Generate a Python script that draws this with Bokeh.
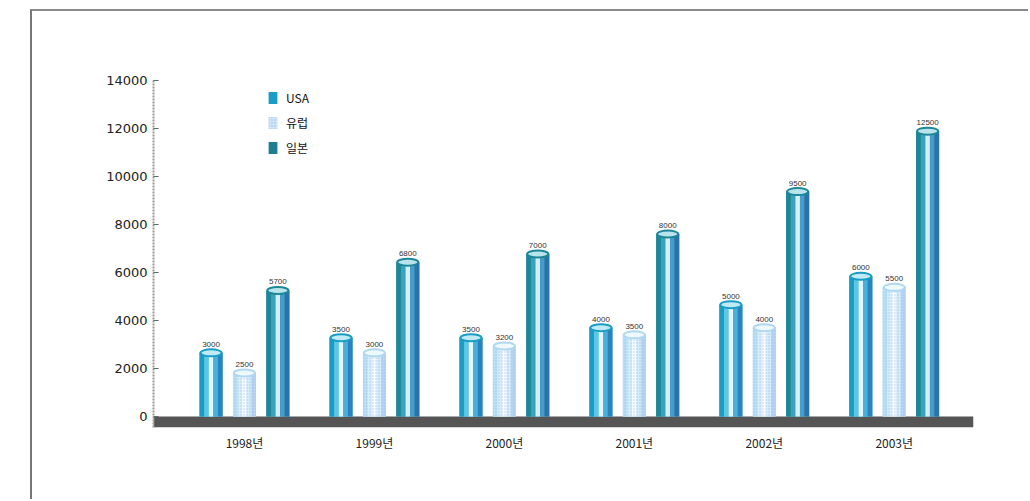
import numpy as np
from bokeh.plotting import figure
from bokeh.models import (ColumnDataSource, FixedTicker, BoxAnnotation, Legend, LegendItem, Range1d)
from bokeh.core.properties import value
from bokeh.embed import file_html
from bokeh.resources import INLINE

# ---- data ----
years = ["1998년", "1999년", "2000년", "2001년", "2002년", "2003년"]
series = ["USA", "유럽", "일본"]
usa = [2650, 3280, 3280, 3700, 4660, 5840]
europe = [1810, 2650, 2940, 3400, 3700, 5380]
japan = [5250, 6430, 6770, 7600, 9370, 11890]
usa_labels = ["3000", "3500", "3500", "4000", "5000", "6000"]
europe_labels = ["2500", "3000", "3200", "3500", "4000", "5500"]
japan_labels = ["5700", "6800", "7000", "8000", "9500", "12500"]
y_ticks = [0, 2000, 4000, 6000, 8000, 10000, 12000, 14000]

FONT = "DejaVu Sans"
LFONT = "Liberation Sans"
KFONT = "Noto Sans CJK KR"

p = figure(width=998, height=490, output_backend="svg", toolbar_location=None,
           x_range=Range1d(-0.70, 5.61), y_range=Range1d(-460, 14000),
           min_border_left=121, min_border_right=57, min_border_top=69, min_border_bottom=74,
           styles={"border-left": "2px solid #777", "border-top": "2px solid #8a8a8a"},
           margin=(9, 0, 0, 30))
p.outline_line_color = None
p.xgrid.grid_line_color = None
p.ygrid.grid_line_color = None
p.background_fill_color = "white"
p.border_fill_color = "white"

# y axis
p.yaxis.ticker = FixedTicker(ticks=y_ticks)
p.yaxis.minor_tick_line_color = None
p.yaxis.major_tick_in = 5
p.yaxis.major_tick_out = 0
p.yaxis.major_tick_line_color = "#666"
p.yaxis.axis_line_color = "#999"
p.yaxis.axis_line_width = 2
p.yaxis.axis_line_dash = "2 1"
p.yaxis.major_label_text_font = FONT
p.yaxis.major_label_text_font_size = "13px"
p.yaxis.major_label_text_color = "#222"
p.yaxis.major_label_standoff = 6

# x axis
idx = np.arange(len(years))
p.xaxis.ticker = FixedTicker(ticks=list(idx))
p.xaxis.major_label_overrides = {int(i): y for i, y in zip(idx, years)}
p.xaxis.axis_line_color = None
p.xaxis.major_tick_line_color = None
p.xaxis.minor_tick_line_color = None
p.xaxis.major_label_text_font = KFONT
p.xaxis.major_label_text_font_size = "12px"
p.xaxis.major_label_text_color = "#222"
p.xaxis.major_label_standoff = 0

# base band
p.add_layout(BoxAnnotation(bottom=-460, top=0, fill_color="#555555", fill_alpha=1.0,
                           line_color=None, level="underlay"))

W = 0.177
offsets = [-0.257, 0.0, 0.257]
datasets = [usa, europe, japan]
labelsets = [usa_labels, europe_labels, japan_labels]
strip_colors = [
    ["#1a9cc4", "#5cc8e6", "#e6f7fc", "#46b2dc", "#2b82bf"],
    ["#b8e2f3", "#d6effa", "#f6fcfe", "#d2ecf8", "#b6d4f2"],
    ["#1d8799", "#3aa3bb", "#d4f0f4", "#469ccc", "#2a72aa"],
]
cap_fill = ["#bfeaf6", "#eef9fd", "#b8e4ea"]
cap_line = ["#1a9cc4", "#b0d8f0", "#1d8799"]
legend_colors = ["#1a9cc4", "#cfe6f7", "#1f7f92"]
hatch = [None, "dot", None]

n = 5
items = []
for s, (vals, off) in enumerate(zip(datasets, offsets)):
    # base bar (legend carrier), covered by shading strips
    bkw = {}
    if hatch[s]:
        bkw = dict(hatch_pattern="dot", hatch_color="#9fb8ea", hatch_scale=3)
    base = p.vbar(x=idx + off, top=vals, bottom=0, width=W, fill_color=legend_colors[s],
                  line_color=None, **bkw)
    items.append(LegendItem(label=series[s], renderers=[base]))
    for k in range(n):
        xs = idx + off + (k - (n - 1) / 2) * W / n
        src = ColumnDataSource(dict(x=xs, top=vals))
        kw = {}
        if hatch[s]:
            kw = dict(hatch_pattern="dot", hatch_color="#9fb8ea", hatch_scale=3, hatch_alpha=0.7)
        p.vbar(x="x", top="top", bottom=0, width=W / n, source=src,
               fill_color=strip_colors[s][k], line_color=None, **kw)
    csrc = ColumnDataSource(dict(x=idx + off, y=vals, t=labelsets[s]))
    p.ellipse(x="x", y="y", width=W * 0.92, height=7, height_units="screen", source=csrc,
              fill_color=cap_fill[s], line_color=cap_line[s], line_width=2)
    p.text(x="x", y="y", text="t", source=csrc, text_font=value(LFONT), text_font_size="8px",
           text_color="#333", text_align="center", text_baseline="bottom", y_offset=-6)

legend = Legend(items=items, location=(114, 271), padding=0, border_line_color=None,
                background_fill_alpha=0, glyph_width=11, glyph_height=15, label_height=17,
                spacing=8, label_standoff=8, label_text_font=KFONT,
                label_text_font_size="12px", label_text_color="#111")
p.add_layout(legend, "center")

open("out.html", "w").write(file_html(p, INLINE))
